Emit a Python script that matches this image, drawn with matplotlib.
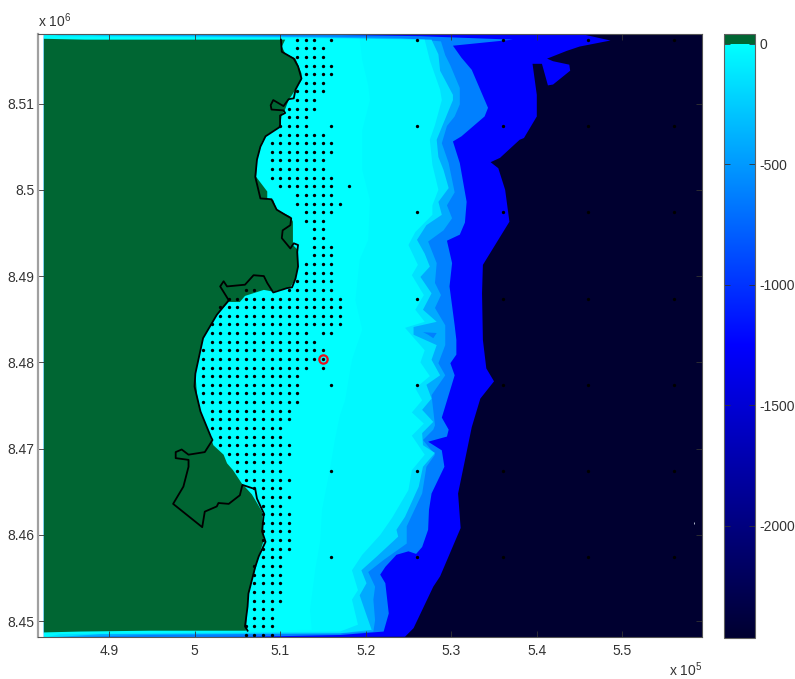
import numpy as np
import matplotlib
matplotlib.use('Agg')
import matplotlib.pyplot as plt
from matplotlib.cm import ScalarMappable
from matplotlib.colors import LinearSegmentedColormap, Normalize

plt.rcParams['font.family'] = ['Liberation Sans', 'DejaVu Sans']
plt.rcParams['mathtext.default'] = 'regular'
plt.rcParams['axes.unicode_minus'] = False

# everything below is easting / northing in km
x_min, x_max = 481.71, 559.27
y_min, y_max = 8448.17, 8518.09
sea_left = 482.4

x_ticks = [4.9, 5, 5.1, 5.2, 5.3, 5.4, 5.5]
y_ticks = [8.45, 8.46, 8.47, 8.48, 8.49, 8.5, 8.51]
cbar_ticks = [0, -500, -1000, -1500, -2000]
depth_min, depth_max = -2465, 40

# depth of each filled band, deepest first
band_depths = [-1250, -622, -417, -150, -30, -2]

iso_a_e = [545.0, 548.6, 545.0, 543.5, 541.2, 541.9, 543.8, 543.9, 541.9, 541.3, 540.6, 539.5, 540.0, 540.0, 538.5,
           538.0, 535.7, 534.6, 535.5, 536.3, 536.8, 533.7, 533.6, 533.7, 534.1, 535.0, 533.4, 532.4, 530.8, 531.1,
           528.7, 527.9, 525.6, 524.6]
iso_a_n = [8518.1, 8517.3, 8516.6, 8516.1, 8515.2, 8514.9, 8514.5, 8513.8, 8512.2, 8512.1, 8514.6, 8514.6, 8511.0,
           8508.5, 8506.0, 8505.8, 8503.7, 8503.2, 8502.5, 8500.0, 8496.3, 8491.3, 8488.0, 8482.6, 8479.3, 8477.8,
           8475.8, 8472.5, 8464.8, 8460.8, 8455.2, 8454.0, 8449.2, 8448.2]

iso_b_e = [506.5, 526.4, 537.2, 530.2, 531.2, 532.4, 534.3, 533.9, 531.2, 530.2, 531.0, 531.8, 531.6, 531.0, 529.5,
           530.1, 529.8, 530.4, 530.6, 530.6, 529.9, 530.4, 528.9, 529.7, 529.5, 527.3, 528.9, 529.2, 527.7, 527.4,
           527.3, 526.6, 525.9, 525.0, 523.6, 522.3, 521.7, 522.3, 522.7, 522.1, 517.0, 506.5]
iso_b_n = [8518.1, 8517.8, 8517.4, 8516.7, 8515.3, 8513.9, 8509.5, 8508.5, 8506.2, 8505.6, 8503.1, 8498.6, 8496.2,
           8494.8, 8494.1, 8491.5, 8488.8, 8484.3, 8482.6, 8480.9, 8479.9, 8478.5, 8473.6, 8472.2, 8471.4, 8470.8,
           8469.8, 8467.9, 8464.8, 8462.9, 8460.6, 8458.6, 8457.8, 8458.1, 8457.7, 8456.3, 8455.4, 8454.4, 8450.9,
           8448.8, 8448.4, 8448.2]

iso_c_e = [494.8, 512.3, 524.0, 528.8, 529.3, 529.9, 531.0, 531.0, 530.4, 529.5, 528.9, 529.7, 530.4, 529.5, 530.1,
           529.1, 527.3, 528.3, 528.1, 528.8, 528.1, 529.3, 529.3, 528.5, 529.3, 527.7, 528.1, 527.9, 526.7, 528.1,
           527.1, 526.6, 524.8, 524.8, 522.1, 520.3, 521.1, 520.9, 521.1, 520.9, 517.0, 494.8]
iso_c_n = [8518.0, 8517.8, 8517.6, 8517.2, 8515.6, 8514.4, 8511.8, 8509.9, 8508.5, 8507.4, 8505.4, 8503.1, 8499.7,
           8498.2, 8496.7, 8495.3, 8494.0, 8491.5, 8489.2, 8487.8, 8486.3, 8484.3, 8482.0, 8479.9, 8478.5, 8476.2,
           8472.7, 8472.2, 8471.0, 8469.3, 8467.9, 8464.8, 8461.0, 8459.0, 8457.1, 8455.7, 8454.0, 8452.5, 8450.1,
           8448.8, 8448.6, 8448.4]

iso_d_e = [489.0, 512.3, 527.7, 528.5, 528.7, 530.2, 530.2, 529.0, 528.3, 528.5, 529.1, 529.7, 528.5, 528.9, 527.1,
           526.0, 526.9, 527.5, 526.4, 527.7, 526.7, 528.3, 525.6, 525.6, 528.3, 527.7, 528.7, 527.1, 527.7, 526.6,
           527.9, 526.6, 526.7, 528.1, 526.7, 526.2, 524.6, 523.6, 523.8, 521.3, 519.5, 520.1, 519.3, 520.1, 520.7,
           517.0, 489.0]
iso_d_n = [8517.9, 8517.7, 8517.4, 8515.7, 8513.8, 8511.0, 8510.4, 8507.5, 8505.8, 8503.8, 8502.3, 8500.2, 8498.6,
           8497.1, 8495.9, 8494.2, 8492.6, 8491.1, 8489.9, 8488.0, 8486.1, 8484.7, 8484.1, 8483.2, 8482.0, 8480.3,
           8478.5, 8477.4, 8475.8, 8474.5, 8473.1, 8471.8, 8470.4, 8469.5, 8467.9, 8465.6, 8462.1, 8460.6, 8459.8,
           8457.5, 8455.9, 8454.4, 8453.0, 8450.7, 8449.0, 8448.6, 8448.5]

iso_e_e = [484.3, 512.3, 526.9, 527.5, 528.7, 528.9, 528.1, 527.5, 527.8, 528.5, 527.8, 527.8, 525.8, 525.0, 526.1,
           525.4, 526.8, 525.8, 526.9, 524.6, 526.9, 526.4, 527.5, 525.8, 526.6, 525.4, 526.8, 525.4, 526.9, 525.4,
           525.0, 523.1, 521.7, 519.6, 518.4, 519.1, 518.4, 519.1, 517.0, 494.8, 484.3]
iso_e_n = [8517.8, 8517.6, 8517.4, 8515.0, 8511.6, 8510.4, 8507.5, 8505.8, 8502.9, 8500.0, 8498.2, 8497.1, 8495.1,
           8493.6, 8491.3, 8490.1, 8487.8, 8486.1, 8484.7, 8484.0, 8481.4, 8480.0, 8478.4, 8477.0, 8475.6, 8474.2,
           8472.9, 8471.5, 8469.3, 8467.5, 8465.2, 8462.0, 8460.0, 8457.7, 8455.9, 8453.6, 8452.5, 8449.6, 8448.8,
           8448.6, 8448.5]

iso_f_e = [482.4, 519.3, 519.6, 520.3, 520.5, 519.6, 519.6, 520.5, 520.3, 519.3, 518.8, 519.6, 518.4, 517.6, 517.0,
           516.4, 515.8, 514.9, 514.7, 514.1, 513.5, 513.7, 494.8, 482.4]
iso_f_n = [8517.7, 8517.5, 8515.0, 8512.1, 8510.4, 8506.9, 8502.3, 8498.8, 8494.2, 8491.9, 8487.2, 8483.8, 8480.3,
           8475.6, 8473.9, 8471.0, 8467.5, 8462.9, 8459.4, 8455.9, 8451.3, 8449.0, 8448.8, 8448.6]

# small deeper pocket off the coast
pocket_e = [526.7, 528.3, 527.9, 527.3]
pocket_n = [8483.5, 8483.4, 8482.8, 8483.2]

land_e = [482.4, 487.2, 510.6, 510.2, 510.6, 511.8, 512.5, 512.5, 511.8, 511.0, 510.5, 510.2, 510.0, 508.5, 507.9,
          507.5, 507.3, 507.2, 508.5, 508.5, 509.2, 509.6, 510.4, 511.2, 511.5, 511.5, 512.1, 512.1, 511.8, 511.2,
          509.2, 508.1, 505.9, 505.3, 504.0, 502.6, 501.0, 500.1, 500.3, 500.7, 502.0, 502.2, 503.4, 503.8, 504.5,
          505.5, 506.7, 507.3, 507.9, 508.1, 507.5, 506.3, 506.1, 506.0, 494.8, 486.6, 482.4]
land_n = [8517.5, 8517.4, 8517.4, 8516.6, 8515.8, 8515.2, 8513.5, 8512.7, 8511.6, 8510.4, 8509.1, 8508.7, 8507.3,
          8506.4, 8505.6, 8504.2, 8503.5, 8501.5, 8499.8, 8498.9, 8498.8, 8497.7, 8497.3, 8496.9, 8496.3, 8493.6,
          8493.0, 8491.1, 8489.7, 8488.7, 8488.2, 8488.4, 8487.7, 8487.0, 8487.0, 8485.5, 8482.8, 8478.7, 8476.2,
          8474.3, 8471.0, 8470.4, 8469.3, 8468.3, 8467.5, 8466.0, 8464.7, 8463.7, 8462.7, 8459.4, 8457.5, 8453.2,
          8450.5, 8448.9, 8448.9, 8448.8, 8448.7]

coast_e = [510.1, 510.2, 511.6, 512.1, 512.5, 511.8, 511.6, 511.0, 510.4, 509.2, 508.9, 509.0, 510.4, 510.6, 510.0,
           510.0, 508.3, 507.7, 507.3, 507.1, 507.7, 509.0, 509.6, 510.6, 511.3, 511.2, 510.3, 510.2, 511.2, 511.6,
           512.1, 512.0, 512.1, 511.8, 511.4, 510.8, 509.2, 508.5, 508.1, 506.9, 505.9, 503.8, 503.4, 503.0, 504.0,
           502.6, 501.0, 500.1, 500.0, 500.7, 501.9, 502.1, 501.2, 499.3, 498.5, 497.8, 497.8, 499.3, 499.3, 498.7,
           497.5, 500.9, 501.2, 502.6, 502.8, 504.0, 505.3, 505.6, 507.1, 507.3, 508.1, 507.9, 508.3, 507.5, 507.1,
           506.3, 506.2, 505.9, 506.2]
coast_n = [8517.4, 8516.0, 8515.2, 8514.3, 8512.9, 8511.6, 8510.6, 8510.5, 8509.7, 8510.4, 8509.8, 8509.3, 8509.2,
           8508.9, 8508.6, 8507.3, 8506.2, 8505.0, 8503.5, 8501.5, 8499.0, 8498.9, 8497.7, 8497.1, 8496.7, 8495.9,
           8495.3, 8494.4, 8493.2, 8493.8, 8493.6, 8492.8, 8491.1, 8489.7, 8488.7, 8488.6, 8488.1, 8489.2, 8490.0,
           8490.1, 8489.0, 8488.8, 8489.4, 8488.8, 8487.2, 8485.5, 8482.8, 8478.7, 8477.2, 8474.3, 8471.4, 8471.0,
           8469.6, 8469.3, 8469.9, 8469.6, 8468.9, 8468.7, 8467.9, 8465.6, 8463.6, 8460.9, 8462.7, 8463.3, 8463.7,
           8463.6, 8464.6, 8465.8, 8465.3, 8464.2, 8462.5, 8460.4, 8459.2, 8457.5, 8456.3, 8453.2, 8451.7, 8449.4,
           8448.9]

# survey points, one row of eastings per northing
dot_north = [8517.4, 8516.4, 8515.4, 8514.4, 8513.4, 8512.4, 8511.4, 8510.4, 8509.4, 8508.4,
             8507.4, 8506.4, 8505.4, 8504.4, 8503.4, 8502.4, 8501.4, 8500.4, 8499.4, 8498.4,
             8497.4, 8496.4, 8495.4, 8494.4, 8493.4, 8492.4, 8491.4, 8490.4, 8489.4, 8488.4,
             8487.4, 8486.4, 8485.4, 8484.4, 8483.4, 8482.4, 8481.4, 8480.4, 8479.4, 8478.4,
             8477.4, 8476.4, 8475.4, 8474.4, 8473.4, 8472.4, 8471.4, 8470.4, 8469.4, 8468.4,
             8467.4, 8466.4, 8465.4, 8464.4, 8463.4, 8462.4, 8461.4, 8460.4, 8459.4, 8458.4,
             8457.4, 8456.4, 8455.4, 8454.4, 8453.4, 8452.4, 8451.4, 8450.4, 8449.4, 8448.4]
dot_east = [[512, 513, 514, 516], [*range(512, 516)], [*range(512, 516)], [*range(513, 517)], [*range(513, 517)],
            [*range(513, 516)], [*range(512, 516)], [*range(512, 515)], [*range(511, 515)], [*range(511, 514)],
            [510, 511, 512, 513, 516], [*range(510, 516)], [*range(509, 517)], [*range(509, 517)], [*range(509, 516)],
            [*range(509, 516)], [*range(509, 517)], [*range(510, 517), 518], [*range(512, 517)], [*range(512, 518)],
            [*range(513, 517)], [*range(513, 516)], [514, 515], [514, 515], [514, 515, 516],
            [514, 515, 516], [*range(513, 517)], [*range(513, 517)], [*range(512, 517)], [506, 507, *range(511, 517)],
            [*range(504, 518)], [*range(503, 518)], [*range(503, 518)], [*range(502, 518)], [*range(502, 514), 515, 516],
            [*range(502, 515)], [*range(501, 516)], [*range(501, 516)], [*range(501, 514), 515], [*range(501, 513)],
            [*range(501, 513), 516], [*range(501, 513)], [*range(501, 513)], [*range(502, 512)], [*range(502, 512)],
            [*range(502, 511)], [*range(503, 511)], [*range(503, 512)], [*range(504, 512)], [*range(505, 511)],
            [*range(505, 511), 516], [*range(506, 512)], [*range(507, 511)], [*range(508, 512)], [*range(508, 511)],
            [*range(508, 512)], [*range(508, 512)], [*range(508, 512)], [*range(508, 512)], [*range(508, 512)],
            [508, 509, 510, 516], [*range(507, 511)], [*range(507, 511)], [*range(507, 511)], [*range(507, 511)],
            [*range(507, 511)], [*range(507, 510)], [*range(507, 510)], [*range(506, 510)], [*range(506, 510)]]

# sparse offshore points
far_east = [526, 536, 546, 556]
far_north = [8517.4, 8507.4, 8497.4, 8487.4, 8477.4, 8467.4, 8457.4]

station_e, station_n = 515.0, 8480.35
speck_e, speck_n = 558.4, 8461.4

fig = plt.figure(figsize=(7.95, 6.79), dpi=100)
ax = fig.add_axes([38 / 795, 1 - 637 / 679, 663.7 / 795, 603.3 / 679])
cax = fig.add_axes([724.3 / 795, 1 - 637.7 / 679, 30.7 / 795, 603.7 / 679])

norm = Normalize(depth_min, depth_max)
stops = [(norm(depth_min), '#000030'), (norm(-1250), '#0000ff'), (norm(0), '#00ffff'),
         (norm(0) + 1e-4, '#006633'), (1.0, '#006633')]
cmap = LinearSegmentedColormap.from_list('bathy', stops, N=1024)

top, bottom = y_max + 0.1, y_min - 0.1

# deep water first, then each shallower band painted over it
ax.fill([sea_left, x_max + 1, x_max + 1, sea_left], [top, top, bottom, bottom], color=cmap(norm(depth_min)), lw=0)
isobaths = [(iso_a_e, iso_a_n), (iso_b_e, iso_b_n), (iso_c_e, iso_c_n),
            (iso_d_e, iso_d_n), (iso_e_e, iso_e_n), (iso_f_e, iso_f_n)]
for (e, n), depth in zip(isobaths, band_depths):
    ax.fill([sea_left, *e, sea_left], [top, *n, bottom], color=cmap(norm(depth)), lw=0)
ax.fill(pocket_e, pocket_n, color=cmap(norm(-622)), lw=0)

ax.fill(land_e, land_n, color='#006633', lw=0)
ax.plot(coast_e, coast_n, color='black', lw=1.3)

dots_x = [e for row in dot_east for e in row]
dots_y = [n for n, row in zip(dot_north, dot_east) for e in row]
ax.plot(dots_x, dots_y, ls='none', marker='o', ms=2.4, mfc='black', mec='none')
far_x, far_y = np.meshgrid(far_east, far_north)
ax.plot(far_x.ravel(), far_y.ravel(), ls='none', marker='o', ms=2.4, mfc='black', mec='none')
ax.plot([speck_e], [speck_n], ls='none', marker='|', ms=2, mew=0.6, color='#c8d0e0')
ax.plot([station_e], [station_n], ls='none', marker='o', ms=6, mfc='none', mec='#e8101c', mew=1.6)

ax.set_xlim(x_min, x_max)
ax.set_ylim(y_min, y_max)
ax.set_xticks([v * 100 for v in x_ticks])
ax.set_xticklabels([f'{v:g}' for v in x_ticks])
ax.set_yticks([(v * 1000) for v in y_ticks])
ax.set_yticklabels([f'{v:g}' for v in y_ticks])
ax.tick_params(axis='both', direction='in', top=True, right=True, length=4.5, width=0.6,
               color='#333333', labelcolor='#333333', labelsize=10)
ax.tick_params(axis='x', pad=5)
ax.tick_params(axis='y', pad=2.5)
for side in ax.spines:
    ax.spines[side].set_color('#555555')
    ax.spines[side].set_linewidth(0.8)
ax.spines['left'].set_color('#a0a0a0')
ax.spines['left'].set_linewidth(1.6)

sm = ScalarMappable(norm=norm, cmap=cmap)
cbar = fig.colorbar(sm, cax=cax, ticks=cbar_ticks)
cbar.ax.tick_params(direction='in', left=True, right=True, length=4.5, width=0.6,
                    color='#333333', labelcolor='#333333', labelsize=10, pad=3)
cbar.outline.set_edgecolor('#606060')
cbar.outline.set_linewidth(0.8)

fig.text(38 / 795, 1 - 27 / 679, 'x 10$^{6}$', fontsize=10, color='#333333')
fig.text(702 / 795, 1 - 676 / 679, 'x 10$^{5}$', fontsize=10, color='#333333', ha='right')

fig.savefig('out.png', dpi=100)
